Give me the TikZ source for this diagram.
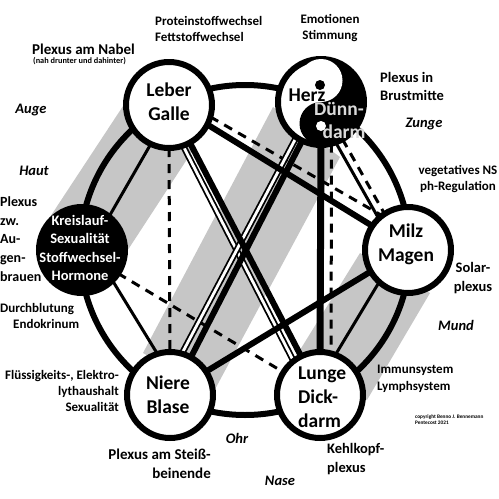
\documentclass[tikz,border=0pt]{standalone}
\usepackage{fontspec}
\setmainfont{Carlito}
\usetikzlibrary{backgrounds}
\definecolor{bandgray}{HTML}{C6C6C6}
\definecolor{paleword}{HTML}{DADADA}
\tikzset{
  organ/.style={circle,draw=black,line width=6pt,fill=white,minimum size=86pt,inner sep=0pt,outer sep=0pt},
  darkorgan/.style={organ,fill=black},
  band/.style={fill=bandgray,draw=none},
  ring/.style={draw=black,line width=6pt},
  thickline/.style={draw=black,line width=6pt},
  thinline/.style={draw=black,line width=3pt},
  dashline/.style={draw=black,line width=3pt,dash pattern=on 9pt off 7pt},
  doubleline/.style={draw=black,line width=1.8pt,double=white,double distance=2.8pt},
  big/.style={inner sep=0pt,font=\bfseries\fontsize{19.5}{24}\selectfont,align=center},
  dark/.style={inner sep=0pt,text=white,font=\bfseries\fontsize{14.5}{18.3}\selectfont,align=center},
  lab/.style={inner sep=0pt,font=\bfseries\fontsize{13}{16.4}\selectfont},
  labbig/.style={inner sep=0pt,font=\bfseries\fontsize{14.5}{18.6}\selectfont},
  labwide/.style={inner sep=0pt,font=\bfseries\fontsize{15}{18.6}\selectfont},
  sense/.style={inner sep=0pt,font=\bfseries\itshape\fontsize{14.5}{16}\selectfont},
}
\begin{document}
\begin{tikzpicture}[x=1pt,y=-1pt]
\useasboundingbox (0,0) rectangle (499,499);
% organ nodes
\node[organ] (leber) at (169,105) {};
\node[organ] (herz) at (321,102) {};
\node[organ] (milz) at (408,250) {};
\node[organ] (lunge) at (320,395) {};
\node[organ] (niere) at (170,395) {};
\node[darkorgan] (kreis) at (82,250) {};
% yin-yang in Herz
\begin{scope}
\clip (321,50) rectangle (372,155);
\fill[black] (herz.center) circle (43);
\end{scope}
\fill[white] (321,80.5) circle (21.5);
\fill[black] (321,123.5) circle (21.5);
\fill[black] (320,85) circle (5);
\fill[white] (321,126) circle (5);
% organ texts
\node[big] (tleber) at (169,102) {Leber\\Galle};
\node[big] (tmilz) at (406,244) {Milz\\Magen};
\node[big] (tniere) at (168,395) {Niere\\Blase};
\node[big,align=left,anchor=west] (tlunge) at (298,397) {Lunge\\Dick-\\darm};
\node[big] (therz) at (307,95) {Herz};
\node[big,text=paleword] (tduenn) at (339,109) {Dünn-};
\node[big,text=paleword] (tdarm) at (344,132) {darm};
\node[dark] (tkreis) at (80,248) {Kreislauf-\\Sexualität\\Stoffwechsel-\\Hormone};
% labels
\node[lab,align=left,anchor=west] (l1) at (155,29) {Proteinstoffwechsel\\Fettstoffwechsel};
\node[lab,align=center] (l2) at (330,28) {Emotionen\\Stimmung};
\node[labwide,anchor=west] (l3) at (32,49) {Plexus am Nabel};
\node[inner sep=0pt,anchor=west,font=\bfseries\fontsize{8.3}{9}\selectfont] (l4) at (33,61.5) {(nah drunter und dahinter)};
\node[labbig,align=left,anchor=west] (l5) at (380,86.5) {Plexus in\\Brustmitte};
\node[sense] (s1) at (31,110) {Auge};
\node[sense] (s2) at (34,171) {Haut};
\node[sense] (s3) at (424,124) {Zunge};
\node[sense] (s4) at (456,325) {Mund};
\node[sense] (s5) at (237,438) {Ohr};
\node[sense] (s6) at (280,481) {Nase};
\node[lab,align=center] (l6) at (458,179) {vegetatives NS\\ph-Regulation};
\node[labbig,font=\bfseries\fontsize{14}{18.6}\selectfont,align=left,anchor=west] (l7) at (0,239) {Plexus\\zw.\\Au-\\gen-\\brauen};
\node[lab,align=left,anchor=west] (l8) at (0,316) {Durchblutung\\\hspace{13pt}Endokrinum};
\node[lab,align=right,anchor=east] (l9) at (119,391) {Flüssigkeits-, Elektro-\\lythaushalt\hspace{8pt}\\Sexualität\hspace{3pt}};
\node[labwide,align=right,anchor=east] (l10) at (211,464) {Plexus am Steiß-\\beinende\hspace{2pt}};
\node[labbig,align=center] (l11) at (473,278) {Solar-\\plexus};
\node[lab,align=left,anchor=west] (l12) at (377,379) {Immunsystem\\Lymphsystem};
\node[inner sep=0pt,align=left,anchor=west,font=\bfseries\fontsize{5.3}{6.2}\selectfont] (l13) at (415,420) {copyright Benno J. Bennemann\\Pentecost 2021};
\node[labbig,align=left,anchor=west] (l14) at (327,459) {Kehlkopf-\\plexus};
% everything below the nodes
\begin{scope}[on background layer]
\path[band] (127,100) -- (195,147) -- (120,262) -- (50,217) -- cycle;
\path[band] (273,107) -- (340,157) -- (213,393) -- (143,353) -- cycle;
\path[band] (360,253) -- (300,350) -- (367,400) -- (430,293) -- cycle;
\draw[ring] (245,250) circle (165);
% connectors
\draw[thinline] (leber.-115) -- (kreis.51);
\draw[thinline] (kreis.-45) -- (niere.107.7);
\draw[thinline] (herz.-70.5) -- (milz.133);
\draw[thinline] (milz.228) -- (lunge.69);
\draw[dashline] (leber.-90) -- (niere.90);
\draw[dashline] (leber.-16.5) -- (milz.127);
\draw[dashline] (herz.-76.5) -- (lunge.75);
\draw[dashline] (herz.-60.5) -- (milz.123.7);
\draw[dashline] (kreis.-33) -- (lunge.148);
\draw[doubleline] (leber.-71) -- (lunge.128);
\draw[doubleline] (herz.-125.8) -- (niere.74.5);
\draw[thickline] (leber.-27.6) -- (milz.146.7);
\draw[thickline] (leber.-61.3) -- (lunge.116);
\draw[thickline] (herz.-116.6) -- (niere.61);
\draw[thickline] (niere.33) -- (milz.210);
\draw[thickline,line width=7pt] (herz.-90) -- (lunge.90);
\end{scope}
\end{tikzpicture}
\end{document}
